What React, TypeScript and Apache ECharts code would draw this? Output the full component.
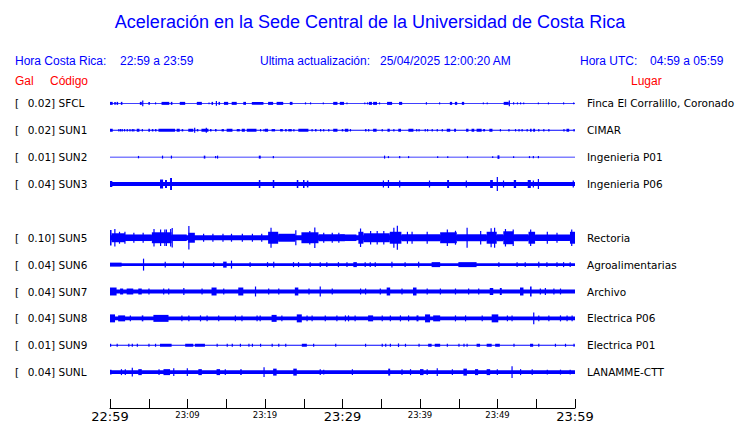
import React, { useEffect, useRef } from "react";
import * as echarts from "echarts";

// ---- data ----
const title = "Aceleración en la Sede Central de la Universidad de Costa Rica";
const horaCR = "22:59 a 23:59";
const actualizacion = "25/04/2025 12:00:20 AM";
const horaUTC = "04:59 a 05:59";

// slots from top to bottom (SUN4 slot is empty)
const codes: (string | null)[] = ["SFCL", "SUN1", "SUN2", "SUN3", null, "SUN5", "SUN6", "SUN7", "SUN8", "SUN9", "SUNL"];
const gal: (number | null)[] = [0.02, 0.02, 0.01, 0.04, null, 0.1, 0.04, 0.04, 0.04, 0.01, 0.04];
const places: (string | null)[] = [
  "Finca El Corralillo, Coronado", "CIMAR", "Ingenieria P01", "Ingenieria P06", null,
  "Rectoria", "Agroalimentarias", "Archivo", "Electrica P06", "Electrica P01", "LANAMME-CTT",
];

// time axis: minutes after 22:59
const xTickLabels = ["22:59", "23:09", "23:19", "23:29", "23:39", "23:49", "23:59"];

// background trace half-thickness (display units, 27 per row)
const baseHalf: (number | null)[] = [0.5, 0.5, 0.5, 2, null, 2.5, 1.5, 2, 2, 0.5, 2];

// bursts: [startMinute, endMinute, halfAmplitude]
const burstsSFCL = [
  [0, 0.35, 1.5], [0.55, 0.75, 1.5], [0.85, 1.05, 1.5], [1.4, 1.6, 1.5], [3.85, 4.1, 1.5], [4.15, 4.3, 3],
  [4.95, 5.15, 1.5], [5.8, 5.95, 1], [6.65, 7.65, 1.5], [7.85, 8.05, 1.5], [9.0, 9.7, 1.5], [11.2, 11.85, 1.5],
  [12.7, 12.85, 1], [13.1, 13.3, 1.5], [13.65, 13.8, 2.5], [14.0, 14.2, 1.5], [14.7, 15.25, 1.5], [15.7, 16.35, 1.5],
  [17.2, 17.55, 1.5], [18.3, 19.8, 1.5], [20.4, 21.05, 1.5], [21.5, 22.35, 1.5], [23.2, 23.55, 1.5], [25.15, 25.3, 1],
  [25.8, 25.95, 1], [27.45, 27.6, 1], [28.8, 29.35, 1.5], [29.65, 30.2, 1.5], [30.5, 30.65, 1], [32.8, 32.95, 1],
  [33.15, 33.3, 1], [33.4, 33.8, 1.5], [33.95, 34.45, 1.5], [34.7, 34.85, 1], [35.75, 36.4, 1.5], [37.3, 37.7, 1.5],
  [40.75, 40.9, 1.2], [42.45, 42.6, 1], [43.85, 44.15, 1.5], [44.5, 44.8, 1.5], [45.4, 45.7, 1.5], [48.1, 48.25, 1],
  [48.6, 48.75, 1], [50.8, 51.45, 1.5], [51.45, 51.6, 3], [52.0, 52.15, 1.2], [52.5, 52.65, 1], [52.9, 53.05, 1],
  [53.3, 53.45, 1], [55.2, 55.35, 1], [56.5, 56.65, 1], [58.45, 58.6, 1], [59.75, 59.9, 1],
];
const burstsSUN1 = [
  [0, 0.35, 1.5], [1.07, 1.2, 1.2], [1.29, 1.42, 1.2], [1.5, 1.63, 1.2], [1.8, 1.93, 1.2], [2.15, 2.28, 1.2],
  [2.5, 2.63, 1.2], [2.8, 2.93, 1.2], [3.0, 3.13, 1.2], [3.45, 3.8, 1.5], [4.1, 4.25, 1.2], [4.95, 5.15, 1.5],
  [5.4, 5.6, 1.2], [5.8, 6.0, 1.2], [6.25, 8.4, 1.5], [8.6, 9.0, 1.5], [9.25, 9.45, 1.2], [10.1, 10.75, 1.5],
  [10.85, 11.0, 2.5], [11.2, 11.4, 1.2], [11.8, 12.7, 1.5], [12.35, 12.5, 2.5], [12.9, 13.1, 1.2], [13.55, 13.75, 1.2],
  [14.4, 14.7, 1.2], [15.05, 15.8, 1.5], [16.35, 16.75, 1.2], [17.0, 17.4, 1.5], [17.65, 18.9, 1.5], [19.35, 19.5, 1.2],
  [19.8, 19.95, 1.2], [20.0, 20.4, 1.5], [20.85, 21.3, 1.2], [21.95, 22.3, 1.2], [22.6, 22.8, 1.2], [23.0, 23.45, 1.2],
  [23.65, 23.8, 1.2], [24.3, 25.6, 1.5], [26.0, 26.15, 1.2], [26.45, 26.65, 1.2], [27.1, 27.25, 1.2], [27.5, 27.65, 1.2],
  [28.15, 28.3, 1.2], [28.8, 29.35, 1.5], [29.9, 30.1, 1.2], [30.3, 30.75, 1.5], [30.95, 31.1, 1.2], [32.9, 33.1, 1.2],
  [33.3, 33.45, 1.2], [33.95, 34.4, 1.5], [35.05, 35.2, 1.2], [35.8, 36.1, 1.5], [36.55, 36.7, 1.2], [37.2, 37.55, 1.5],
  [38.5, 39.15, 1.5], [39.5, 39.65, 1.2], [39.8, 39.95, 1.2], [40.6, 40.75, 1.2], [40.9, 41.05, 1.2], [41.5, 41.65, 1.2],
  [42.15, 42.3, 1.2], [42.8, 42.95, 1.2], [43.45, 43.9, 1.5], [44.4, 44.65, 1.5], [45.95, 46.25, 1.5], [46.65, 47.0, 1.5],
  [47.3, 47.95, 1.5], [48.15, 48.4, 1.2], [48.95, 49.35, 1.5], [50.3, 50.45, 1.2], [51.4, 51.55, 1.2], [52.25, 52.4, 1.2],
  [52.7, 52.85, 1.2], [53.1, 53.25, 1.2], [53.75, 53.9, 1.2], [54.2, 54.4, 1.5], [54.6, 54.85, 1.5], [55.25, 55.4, 1.2],
  [55.9, 56.05, 1.2], [56.55, 56.7, 1.2], [58.5, 58.65, 1.2], [58.9, 59.25, 1.5], [59.8, 59.95, 1.2],
];
const burstsSUN2 = [
  [3.6, 3.75, 1.2], [6.7, 6.85, 1.5], [7.85, 8.0, 1.5], [12.1, 12.3, 1.5], [13.55, 13.7, 1.2], [13.8, 13.95, 1.5],
  [19.2, 19.45, 1.5], [21.0, 21.15, 1.2], [35.35, 35.5, 1.5], [35.85, 36.0, 1], [37.3, 37.45, 1.2], [38.45, 38.6, 1],
  [42.2, 42.35, 1], [43.5, 43.65, 1], [46.05, 46.2, 1], [49.3, 49.45, 1], [50.0, 50.25, 1.8], [52.0, 52.15, 1],
  [54.05, 54.2, 1], [54.55, 54.7, 1.2], [55.2, 55.35, 1.2],
];
const burstsSUN3 = [
  [0, 0.3, 3], [6.45, 6.85, 4.5], [7.1, 7.35, 4], [7.75, 8.0, 6], [19.2, 19.4, 4], [21.0, 21.2, 4], [24.1, 24.3, 4],
  [24.9, 25.1, 4], [25.4, 25.6, 3.5], [35.2, 35.35, 3.5], [35.85, 36.0, 4], [37.3, 37.45, 3.5], [41.15, 41.3, 3.5],
  [43.5, 43.75, 4], [45.9, 46.05, 3.5], [49.05, 49.4, 4], [49.9, 50.05, 7], [50.7, 50.85, 3.5], [52.1, 52.4, 4],
  [53.9, 54.3, 4], [54.55, 54.7, 3.5], [55.2, 55.35, 5], [59.7, 59.85, 3.5],
];
const burstsSUN5 = [
  [0, 0.2, 7.7], [0.2, 1.95, 4.5], [0.55, 0.7, 8.7], [1.15, 1.3, 6], [1.85, 2.0, 6], [1.95, 5.4, 3.3],
  [3.0, 3.15, 5], [4.2, 4.35, 5], [5.4, 7.95, 5.5], [5.6, 5.75, 8.7], [6.45, 6.6, 8.3], [7.0, 7.15, 8.3],
  [7.2, 7.35, 8.3], [7.75, 7.9, 8.8], [7.95, 8.1, 9.7], [7.95, 9.9, 3.3], [10.1, 10.25, 11.7], [10.1, 10.95, 5],
  [12.0, 12.1, 4], [13.2, 13.3, 4], [14.5, 14.6, 4], [15.6, 15.7, 4], [17.0, 17.1, 4], [18.3, 18.4, 4],
  [19.5, 19.6, 4], [20.4, 21.7, 6], [20.7, 20.85, 10], [21.7, 23.9, 4], [23.9, 24.05, 7.5], [24.7, 26.9, 5.5],
  [25.7, 25.85, 6.7], [26.35, 26.5, 10.3], [26.9, 30.3, 3.5], [27.5, 27.65, 5], [28.6, 28.75, 5], [29.45, 29.6, 5],
  [29.7, 31.8, 3.3], [32.05, 32.7, 6], [32.25, 32.4, 9.3], [32.7, 36.1, 4.5], [33.55, 33.7, 6.7], [34.4, 34.55, 6.7],
  [35.25, 35.4, 6.7], [36.1, 37.6, 6], [36.55, 36.7, 10], [37.0, 37.15, 12], [37.6, 42.6, 3.5], [38.3, 38.45, 6],
  [38.9, 39.05, 6], [40.85, 41.0, 6], [42.6, 44.75, 5.5], [43.45, 43.6, 8.3], [44.5, 44.65, 7], [44.75, 48.6, 3.5],
  [46.0, 46.15, 10], [47.75, 47.9, 6.7], [48.6, 49.9, 6], [49.1, 49.25, 9.5], [49.55, 49.7, 10], [49.9, 50.75, 3.5],
  [50.75, 52.05, 6.5], [50.95, 51.1, 8.8], [51.95, 52.1, 8.3], [52.05, 54.0, 3.5], [54.0, 54.85, 6], [54.2, 54.35, 8.3],
  [54.85, 59.35, 3.3], [56.35, 56.5, 6], [57.6, 57.75, 5], [59.35, 60, 6], [59.5, 59.65, 8.3],
];
const burstsSUN6 = [
  [0, 1.5, 2], [4.25, 4.4, 6], [7.05, 7.2, 3], [9.4, 9.55, 3], [13.3, 13.45, 2.5], [14.6, 15.05, 3], [15.6, 15.75, 4],
  [18.0, 18.15, 2.5], [20.25, 20.4, 2.5], [21.05, 21.2, 3], [23.6, 23.75, 2.5], [24.25, 24.4, 2.5], [25.75, 25.9, 2.5],
  [27.05, 27.2, 2.5], [27.9, 28.05, 2.5], [29.4, 29.55, 2.5], [30.5, 30.65, 2.5], [31.4, 31.85, 2.5], [32.85, 33.0, 2.5],
  [33.5, 33.65, 2.5], [34.15, 34.3, 2.5], [36.3, 36.45, 3], [38.0, 38.15, 2.5], [39.75, 39.9, 3], [41.5, 42.6, 2.5],
  [44.95, 47.3, 2.5], [50.1, 50.25, 2.5], [52.45, 52.6, 2.5], [53.5, 53.65, 2.5], [55.25, 55.4, 3], [56.3, 56.45, 2.5],
  [57.6, 57.75, 2.5], [58.45, 58.6, 2.5], [59.3, 59.45, 2.5],
];
const burstsSUN7 = [
  [0, 0.85, 4], [1.3, 1.7, 3], [2.15, 3.0, 3], [3.65, 4.1, 3], [4.95, 5.1, 3], [6.85, 7.0, 3], [7.5, 7.65, 3],
  [9.45, 9.6, 3.5], [11.8, 11.95, 3], [13.1, 13.75, 4], [14.6, 14.75, 3], [16.55, 17.2, 4], [18.7, 18.85, 5],
  [20.4, 20.55, 3], [21.7, 21.85, 3], [23.85, 24.3, 4], [25.6, 25.75, 3], [27.05, 27.2, 5], [28.6, 28.75, 3],
  [32.25, 32.4, 3], [32.9, 33.05, 3], [34.8, 34.95, 3], [35.7, 36.15, 4], [37.6, 37.75, 3], [39.1, 39.55, 4],
  [40.85, 41.0, 3], [42.55, 42.7, 3], [44.5, 44.65, 3], [46.2, 46.35, 3], [47.5, 47.65, 3], [49.0, 49.45, 3.5],
  [50.3, 50.55, 3.5], [52.9, 53.35, 4], [54.2, 54.4, 5], [55.45, 55.6, 3], [56.1, 56.25, 3.5], [57.2, 57.35, 3],
  [58.05, 58.2, 3],
];
const burstsSUN8 = [
  [0, 0.65, 4], [1.05, 1.95, 3], [2.55, 2.7, 3], [4.1, 4.3, 3], [5.6, 7.55, 3.5], [9.2, 9.35, 3], [10.1, 10.25, 3],
  [11.6, 11.75, 3], [12.45, 12.6, 3], [13.95, 14.1, 3], [16.1, 16.25, 3], [16.95, 17.1, 3], [18.9, 19.05, 3],
  [19.3, 19.45, 3], [20.85, 21.5, 3.5], [22.1, 22.25, 3], [24.1, 24.75, 4], [25.35, 25.5, 3], [26.0, 26.15, 3],
  [27.7, 27.85, 3], [29.2, 29.35, 3], [30.3, 30.45, 3], [30.7, 30.85, 3], [31.55, 31.7, 3], [33.3, 33.95, 3],
  [35.05, 35.2, 3], [36.1, 36.25, 3], [37.4, 37.55, 3], [38.45, 38.6, 3], [39.55, 39.8, 3], [40.65, 41.3, 4],
  [41.7, 42.6, 3], [44.5, 44.65, 3], [45.8, 45.95, 3], [47.95, 48.1, 3], [49.25, 50.1, 4], [51.2, 51.35, 3],
  [51.8, 51.95, 3], [54.6, 54.75, 6], [55.25, 55.4, 3], [56.55, 56.7, 3], [58.05, 58.2, 3], [58.9, 59.05, 3],
  [59.55, 59.7, 3],
];
const burstsSUN9 = [
  [0, 0.15, 1.5], [0.85, 1.0, 1.5], [2.35, 2.5, 1.5], [2.8, 2.95, 1.5], [3.45, 3.6, 1.5], [4.95, 5.1, 1.5],
  [5.8, 5.95, 1.5], [6.45, 7.95, 1.5], [9.7, 10.75, 1.5], [10.95, 12.25, 1.5], [13.75, 13.9, 1.5], [15.05, 15.2, 1.5],
  [15.7, 15.85, 1.5], [16.75, 16.9, 1.5], [17.85, 18.0, 1.5], [18.3, 18.45, 1.5], [19.35, 19.5, 1.5], [20.85, 21.0, 1.5],
  [21.7, 21.85, 1.5], [22.6, 22.75, 1.5], [24.75, 25.4, 1.5], [26.2, 26.35, 1.5], [29.05, 29.2, 1.5], [32.9, 33.05, 1.5],
  [35.05, 35.2, 1.5], [35.5, 35.65, 1.5], [36.1, 36.25, 1.5], [37.15, 37.3, 1.8], [38.05, 38.2, 1.5], [39.8, 39.95, 1.5],
  [41.05, 41.5, 1.5], [41.9, 42.6, 1.5], [43.45, 43.6, 1.5], [44.95, 45.1, 1.5], [45.6, 45.75, 1.5], [46.0, 46.15, 1.5],
  [47.3, 47.75, 1.5], [48.6, 49.25, 1.5], [49.7, 50.3, 1.5], [52.05, 52.2, 1.5], [54.2, 54.6, 1.5], [55.25, 55.4, 1.5],
  [57.4, 57.55, 1.5], [58.7, 58.85, 1.5], [59.8, 59.95, 1.5],
];
const burstsSUNL = [
  [0, 0.2, 2.5], [1.4, 1.55, 3], [1.9, 2.05, 3], [2.8, 2.95, 4.5], [3.65, 4.1, 3], [6.25, 6.4, 3], [6.9, 7.75, 3],
  [8.15, 8.3, 4], [9.9, 10.05, 4], [11.4, 11.85, 3], [13.75, 14.2, 3], [14.8, 14.95, 3], [16.8, 17.0, 3],
  [19.8, 19.95, 5], [21.05, 21.5, 3.5], [23.65, 24.1, 3.5], [27.05, 27.2, 3], [27.5, 27.65, 2.5], [31.2, 31.35, 3],
  [35.9, 36.15, 3.5], [37.6, 37.75, 3], [38.7, 38.85, 3], [40.0, 40.45, 3], [40.85, 41.0, 3], [42.15, 42.3, 4],
  [44.1, 44.25, 3], [45.6, 46.05, 3.5], [47.1, 47.5, 3], [48.6, 49.05, 3], [49.9, 50.05, 3], [51.8, 51.95, 6],
  [52.9, 53.05, 3], [54.4, 54.55, 3], [56.35, 56.5, 2.5], [58.05, 58.2, 2.5], [59.3, 59.45, 2.5],
];
const bursts: (number[][] | null)[] = [
  burstsSFCL, burstsSUN1, burstsSUN2, burstsSUN3, null, burstsSUN5,
  burstsSUN6, burstsSUN7, burstsSUN8, burstsSUN9, burstsSUNL,
];

const BLUE = "#0000ff";
const RED = "#ff0000";
const HEAD_FONT = "'Liberation Sans', Arial, sans-serif";
const LABEL_FONT = "'DejaVu Sans', sans-serif";
const UNITS_PER_ROW = 27;

export default function App() {
  const ref = useRef<HTMLDivElement>(null);

  useEffect(() => {
    if (!ref.current) return;
    const chart = echarts.init(ref.current, undefined, { renderer: "svg" });

    const traceData: number[][] = [];
    codes.forEach((c, slot) => {
      if (!c) return;
      traceData.push([0, 60, slot, baseHalf[slot] as number]);
      (bursts[slot] || []).forEach((b) => traceData.push([b[0], b[1], slot, b[2]]));
    });

    const option: any = {
      animation: false,
      backgroundColor: "#ffffff",
      grid: { left: 110, right: 165, top: 76.5, bottom: 22.5, containLabel: false },
      xAxis: {
        type: "value",
        min: 0,
        max: 60,
        interval: 5,
        offset: 9,
        axisLine: { show: true, onZero: false, lineStyle: { color: "#000", width: 1 } },
        axisTick: { show: true, inside: true, length: 9, lineStyle: { color: "#000" } },
        splitLine: { show: false },
        axisLabel: {
          margin: 2,
          color: "#000",
          fontFamily: LABEL_FONT,
          verticalAlign: "top",
          formatter: (v: number) => {
            if (v % 10 !== 0) return "";
            const lab = xTickLabels[v / 10];
            return v % 30 === 0 ? `{big|${lab}}` : `{small|${lab}}`;
          },
          rich: {
            big: { fontSize: 13, fontFamily: LABEL_FONT, color: "#000" },
            small: { fontSize: 8.5, fontFamily: LABEL_FONT, color: "#000" },
          },
        },
      },
      yAxis: [
        {
          type: "value",
          min: -1,
          max: 11,
          interval: 1,
          inverse: true,
          position: "left",
          axisLine: { show: false },
          axisTick: { show: false },
          splitLine: { show: false },
          axisLabel: {
            margin: 95,
            align: "left",
            formatter: (v: number) => {
              const c = codes[v];
              if (v < 0 || v > 10 || !c) return "";
              return `{a|[}{b|${(gal[v] as number).toFixed(2)}]} {b|${c}}`;
            },
            rich: {
              a: { width: 12.7, fontSize: 10.5, fontFamily: LABEL_FONT, color: "#000" },
              b: { fontSize: 10.5, fontFamily: LABEL_FONT, color: "#000" },
            },
          },
        },
        {
          type: "value",
          min: -1,
          max: 11,
          interval: 1,
          inverse: true,
          position: "right",
          axisLine: { show: false },
          axisTick: { show: false },
          splitLine: { show: false },
          axisLabel: {
            margin: 12,
            align: "left",
            fontSize: 10.5,
            fontFamily: LABEL_FONT,
            color: "#000",
            formatter: (v: number) => (v < 0 || v > 10 ? "" : places[v] || ""),
          },
        },
      ],
      series: [
        {
          type: "custom",
          xAxisIndex: 0,
          yAxisIndex: 0,
          encode: { x: [0, 1], y: 2 },
          data: traceData,
          renderItem: (params: any, api: any) => {
            const s = api.coord([api.value(0), api.value(2)]);
            const e = api.coord([api.value(1), api.value(2)]);
            const unit = api.size([0, 1])[1] / UNITS_PER_ROW;
            const h = api.value(3) * unit;
            return {
              type: "rect",
              shape: { x: s[0], y: s[1] - h, width: Math.max(e[0] - s[0], 1.2), height: 2 * h },
              style: { fill: BLUE },
            };
          },
        },
      ],
      graphic: [
        {
          type: "text", left: "center", top: 13,
          style: { text: title, fill: BLUE, font: `18px ${HEAD_FONT}` },
        },
        {
          type: "text", x: 15, y: 61,
          style: { text: "Hora Costa Rica:", fill: BLUE, font: `12px ${HEAD_FONT}`, verticalAlign: "middle" },
        },
        {
          type: "text", x: 120, y: 61,
          style: { text: horaCR, fill: BLUE, font: `12px ${HEAD_FONT}`, verticalAlign: "middle" },
        },
        {
          type: "text", x: 260, y: 61,
          style: { text: "Ultima actualización:", fill: BLUE, font: `12px ${HEAD_FONT}`, verticalAlign: "middle" },
        },
        {
          type: "text", x: 380, y: 61,
          style: { text: actualizacion, fill: BLUE, font: `12px ${HEAD_FONT}`, verticalAlign: "middle" },
        },
        {
          type: "text", x: 580, y: 61,
          style: { text: "Hora UTC:", fill: BLUE, font: `12px ${HEAD_FONT}`, verticalAlign: "middle" },
        },
        {
          type: "text", x: 650, y: 61,
          style: { text: horaUTC, fill: BLUE, font: `12px ${HEAD_FONT}`, verticalAlign: "middle" },
        },
        {
          type: "text", x: 15, y: 81,
          style: { text: "Gal", fill: RED, font: `12px ${HEAD_FONT}`, verticalAlign: "middle" },
        },
        {
          type: "text", x: 50, y: 81,
          style: { text: "Código", fill: RED, font: `12px ${HEAD_FONT}`, verticalAlign: "middle" },
        },
        {
          type: "text", x: 631, y: 81,
          style: { text: "Lugar", fill: RED, font: `12px ${HEAD_FONT}`, verticalAlign: "middle" },
        },
      ],
    };

    chart.setOption(option);
    return () => chart.dispose();
  }, []);

  return (
    <div
      ref={ref}
      style={{ position: "fixed", left: 0, top: 0, width: 740, height: 423, background: "#fff" }}
    />
  );
}
